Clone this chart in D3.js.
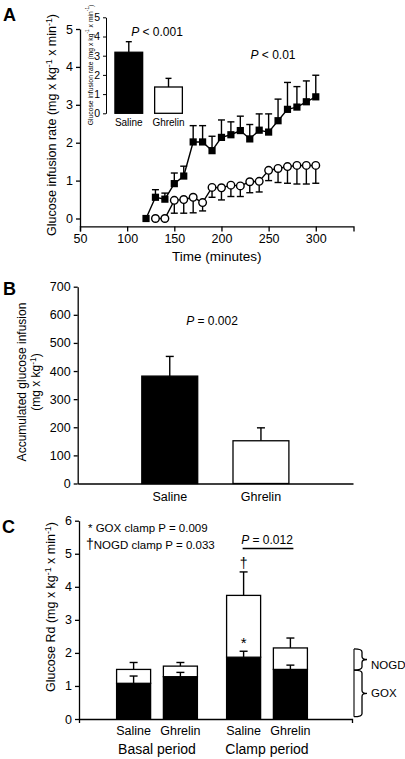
<!DOCTYPE html>
<html><head><meta charset="utf-8">
<script src="https://cdn.jsdelivr.net/npm/d3@7"></script>
<style>
body{margin:0;background:#fff;}
svg{display:block;font-family:"Liberation Sans",Arial,Helvetica,sans-serif;}
text{fill:#000;}
</style></head><body>
<svg id="c" width="405" height="759"></svg>
<script>
// ---------- Panel A data ----------
const timesSaline = [120,130,140,150,160,170,180,190,200,210,220,230,240,250,260,270,280,290,300];
const salineRate  = [0,0.56,0.51,0.92,1.12,2.02,2.02,1.79,2.14,2.21,2.32,2.10,2.33,2.28,2.58,2.88,2.94,3.08,3.21];
const salineSem   = [0,0.20,0.16,0.28,0.26,0.43,0.43,0.38,0.46,0.34,0.38,0.38,0.43,0.48,0.57,0.71,0.54,0.55,0.57];
const timesGhrelin = [130,140,150,160,170,180,190,200,210,220,230,240,250,260,270,280,290,300];
const ghrelinRate  = [0,0,0.48,0.50,0.56,0.42,0.82,0.81,0.88,0.86,0.97,0.98,1.27,1.32,1.37,1.40,1.40,1.40];
const ghrelinSem   = [0,0,0.34,0.36,0.41,0.22,0.26,0.32,0.30,0.28,0.29,0.28,0.27,0.37,0.44,0.49,0.49,0.47];
const timeTicks = [50,100,150,200,250,300];
const rateTicks = [0,1,2,3,4,5];
// inset
const insetGroups = ["Saline","Ghrelin"];
const insetMeans  = [3.18,1.37];
const insetSem    = [0.55,0.45];
// ---------- Panel B data ----------
const bGroups = ["Saline","Ghrelin"];
const bMeans  = [382,152];
const bSem    = [70,46];
const bTicks  = [0,100,200,300,400,500,600,700];
// ---------- Panel C data ----------
const cPeriods = ["Basal period","Clamp period"];
const cTreat   = ["Saline","Ghrelin"];
const cGox     = [1.08,1.28,1.87,1.50];
const cGoxSem  = [0.22,0.13,0.18,0.13];
const cNogd    = [0.42,0.32,1.87,0.65];
const cTotSem  = [0.21,0.11,0.71,0.30];
const cTicks   = [0,1,2,3,4,5,6];

const svg = d3.select("#c");

function richText(g, parts, attrs){
  const t = g.append("text");
  for (const k in attrs) t.attr(k, attrs[k]);
  let pend = 0;
  parts.forEach(p=>{
    const s = t.append("tspan").text(p.t);
    if (p.sup){ s.attr("dy",-4 + pend).attr("font-size","0.7em"); pend = 4; }
    else { if (pend) s.attr("dy",pend); pend = 0; if (p.it) s.attr("font-style","italic"); }
  });
  return t;
}
function styleAxis(g, fs){
  g.selectAll("path,line").attr("stroke","#000").attr("stroke-width",1.3);
  g.selectAll("text").attr("font-size",fs).attr("fill","#000").attr("font-family","Liberation Sans, Arial, sans-serif");
}
function errBar(g, x, y1, y2, cap){
  g.append("line").attr("x1",x).attr("x2",x).attr("y1",y1).attr("y2",y2).attr("stroke","#000").attr("stroke-width",1.4);
  g.append("line").attr("x1",x-cap).attr("x2",x+cap).attr("y1",y2).attr("y2",y2).attr("stroke","#000").attr("stroke-width",1.4);
}

// ================= Panel A =================
const gA = svg.append("g");
gA.append("text").attr("x",3).attr("y",21).attr("font-size",18).attr("font-weight","bold").text("A");
const xA = d3.scaleLinear().domain([50,340]).range([80,353.5]);
const yA = d3.scaleLinear().domain([0,5]).range([218.5,29]);
const yAaxis = d3.scaleLinear().domain([-0.21,5]).range([yA(-0.21),29]);
gA.append("g").attr("transform","translate(80,0)")
  .call(d3.axisLeft(yAaxis).tickValues(rateTicks).tickFormat(d3.format("d")).tickSize(4).tickSizeOuter(0))
  .call(g=>styleAxis(g,12.5));
gA.append("g").attr("transform",`translate(0,${yA(-0.21)})`)
  .call(d3.axisBottom(xA).tickValues(timeTicks).tickFormat(d3.format("d")).tickSize(5).tickSizeOuter(5))
  .call(g=>styleAxis(g,12.5));
gA.append("text").attr("x",(xA(50)+xA(340))/2).attr("y",261).attr("text-anchor","middle").attr("font-size",13.5).text("Time (minutes)");
richText(gA,[{t:"Glucose infusion rate (mg x kg"},{t:"-1",sup:1},{t:" x min"},{t:"-1",sup:1},{t:")"}],
  {transform:"translate(56,125) rotate(-90)","text-anchor":"middle","font-size":12.5});

// ghrelin
timesGhrelin.forEach((t,i)=>{ if(ghrelinSem[i]>0) errBar(gA,xA(t),yA(ghrelinRate[i]),yA(ghrelinRate[i]-ghrelinSem[i]),3.5); });
gA.append("path").datum(timesGhrelin.map((t,i)=>[t,ghrelinRate[i]]))
  .attr("d",d3.line().x(d=>xA(d[0])).y(d=>yA(d[1]))).attr("fill","none").attr("stroke","#000").attr("stroke-width",1.4);
gA.selectAll(".cg").data(timesGhrelin).join("circle").attr("cx",d=>xA(d)).attr("cy",(d,i)=>yA(ghrelinRate[i]))
  .attr("r",3.8).attr("fill","#fff").attr("stroke","#000").attr("stroke-width",1.4);
// saline
timesSaline.forEach((t,i)=>{ if(salineSem[i]>0) errBar(gA,xA(t),yA(salineRate[i]),yA(salineRate[i]+salineSem[i]),3.5); });
gA.append("path").datum(timesSaline.map((t,i)=>[t,salineRate[i]]))
  .attr("d",d3.line().x(d=>xA(d[0])).y(d=>yA(d[1]))).attr("fill","none").attr("stroke","#000").attr("stroke-width",1.4);
gA.selectAll(".sq").data(timesSaline).join("rect").attr("x",d=>xA(d)-3.6).attr("y",(d,i)=>yA(salineRate[i])-3.6)
  .attr("width",7.2).attr("height",7.2).attr("fill","#000");
richText(gA,[{t:"P",it:1},{t:" < 0.01"}],{x:273,y:59,"text-anchor":"middle","font-size":12});

// inset
const xI = d3.scaleBand().domain(insetGroups).range([106,191.3]).paddingInner(0.302).paddingOuter(0.225);
const yI = d3.scaleLinear().domain([0,5]).range([113.3,17.3]);
gA.append("g").attr("transform","translate(106,0)")
  .call(d3.axisLeft(yI).tickValues(rateTicks).tickFormat(d3.format("d")).tickSize(3).tickSizeOuter(0))
  .call(g=>styleAxis(g,10.5)).call(g=>g.selectAll("path,line").attr("stroke-width",1));
insetGroups.forEach((k,i)=>{
  errBar(gA, xI(k)+xI.bandwidth()/2, yI(insetMeans[i]), yI(insetMeans[i]+insetSem[i]), 3);
  gA.append("rect").attr("x",xI(k)).attr("y",yI(insetMeans[i])).attr("width",xI.bandwidth()).attr("height",yI(0)-yI(insetMeans[i]))
    .attr("fill",i===0?"#000":"#fff").attr("stroke","#000").attr("stroke-width",1.3);
  gA.append("text").attr("x",xI(k)+xI.bandwidth()/2).attr("y",126).attr("text-anchor","middle").attr("font-size",10).text(k);
});
richText(gA,[{t:"Glucose infusion rate (mg x kg"},{t:"-1",sup:1},{t:" x min"},{t:"-1",sup:1},{t:")"}],
  {transform:"translate(92.5,65) rotate(-90)","text-anchor":"middle","font-size":6.8});
richText(gA,[{t:"P",it:1},{t:" < 0.001"}],{x:157,y:36,"text-anchor":"middle","font-size":12});

// ================= Panel B =================
const gB = svg.append("g");
gB.append("text").attr("x",3).attr("y",295).attr("font-size",18).attr("font-weight","bold").text("B");
const xB = d3.scaleBand().domain(bGroups).range([77.7,353]).paddingInner(0.387).paddingOuter(0.703);
const yB = d3.scaleLinear().domain([0,700]).range([483.5,286.7]);
gB.append("g").attr("transform","translate(77.7,0)")
  .call(d3.axisLeft(yB).tickValues(bTicks).tickFormat(d3.format("d")).tickSize(4).tickSizeOuter(0)).call(g=>styleAxis(g,12.5));
gB.append("g").attr("transform",`translate(0,${yB(0)})`)
  .call(d3.axisBottom(xB).tickSize(0).tickSizeOuter(0).tickPadding(9)).call(g=>styleAxis(g,12.5));
bGroups.forEach((k,i)=>{
  errBar(gB, xB(k)+xB.bandwidth()/2, yB(bMeans[i]), yB(bMeans[i]+bSem[i]), 4);
  gB.append("rect").attr("x",xB(k)).attr("y",yB(bMeans[i])).attr("width",xB.bandwidth()).attr("height",yB(0)-yB(bMeans[i]))
    .attr("fill",i===0?"#000":"#fff").attr("stroke","#000").attr("stroke-width",1.3);
});
richText(gB,[{t:"P",it:1},{t:" = 0.002"}],{x:212,y:325,"text-anchor":"middle","font-size":12});
gB.append("text").attr("transform","translate(26,382) rotate(-90)").attr("text-anchor","middle").attr("font-size",12).text("Accumulated glucose infusion");
richText(gB,[{t:"(mg x kg"},{t:"-1",sup:1},{t:")"}],{transform:"translate(39.5,382) rotate(-90)","text-anchor":"middle","font-size":12});

// ================= Panel C =================
const gC = svg.append("g");
gC.append("text").attr("x",2).attr("y",533).attr("font-size",18).attr("font-weight","bold").text("C");
const xCo = d3.scaleBand().domain(cPeriods).range([102,322]);
const xCi = d3.scaleBand().domain(cTreat).range([0,xCo.bandwidth()]).paddingInner(0.273).paddingOuter(0.312);
const yC = d3.scaleLinear().domain([0,6]).range([719,520.7]);
gC.append("g").attr("transform","translate(79,0)")
  .call(d3.axisLeft(yC).tickValues(cTicks).tickFormat(d3.format("d")).tickSize(4).tickSizeOuter(0)).call(g=>styleAxis(g,12.5));
const xCaxis = d3.scaleLinear().domain([0,1]).range([79,352]);
gC.append("g").attr("transform",`translate(0,${yC(0)})`)
  .call(d3.axisBottom(xCaxis).tickValues([]).tickSizeOuter(4)).call(g=>styleAxis(g,12.5));
const cRows = [];
cPeriods.forEach(p=>cTreat.forEach(t=>cRows.push({p,t})));
const stackData = cRows.map((r,i)=>({GOX:cGox[i],NOGD:cNogd[i]}));
const series = d3.stack().keys(["GOX","NOGD"])(stackData);
const cx = r => xCo(r.p)+xCi(r.t);
cRows.forEach((r,i)=>{
  const top = series[1][i][1];
  errBar(gC, cx(r)+xCi.bandwidth()/2, yC(top), yC(top+cTotSem[i]), 4);
});
series.forEach((s,si)=>{
  s.forEach((d,i)=>{
    gC.append("rect").attr("x",cx(cRows[i])).attr("y",yC(d[1])).attr("width",xCi.bandwidth()).attr("height",yC(d[0])-yC(d[1]))
      .attr("fill",si===0?"#000":"#fff").attr("stroke","#000").attr("stroke-width",1.3);
  });
});
cRows.forEach((r,i)=>{
  const g = series[0][i][1];
  errBar(gC, cx(r)+xCi.bandwidth()/2, yC(g), yC(g+cGoxSem[i]), 4);
  gC.append("text").attr("x",cx(r)+xCi.bandwidth()/2).attr("y",735).attr("text-anchor","middle").attr("font-size",12.5).text(r.t);
});
cPeriods.forEach(p=>{
  gC.append("text").attr("x",xCo(p)+xCo.bandwidth()/2).attr("y",754).attr("text-anchor","middle").attr("font-size",14).text(p);
});
// markers on clamp saline
const cs = cRows[2], csx = cx(cs)+xCi.bandwidth()/2;
gC.append("text").attr("x",csx).attr("y",yC(series[1][2][1]+cTotSem[2])-4).attr("text-anchor","middle").attr("font-size",14).text("\u2020");
gC.append("text").attr("x",csx).attr("y",648).attr("text-anchor","middle").attr("font-size",15).text("*");
// P = 0.012 line
const cg = cRows[3], cgx = cx(cg)+xCi.bandwidth()/2;
gC.append("line").attr("x1",csx-1).attr("x2",cgx+3).attr("y1",548.5).attr("y2",548.5).attr("stroke","#000").attr("stroke-width",1.3);
richText(gC,[{t:"P",it:1},{t:" = 0.012"}],{x:(csx+cgx)/2,y:544,"text-anchor":"middle","font-size":12});
gC.append("text").attr("x",88).attr("y",532).attr("font-size",11.5).text("* GOX clamp P = 0.009");
const dagT = gC.append("text").attr("x",86).attr("y",548.5).attr("font-size",11.5);
dagT.append("tspan").attr("font-size",14).text("\u2020");
dagT.append("tspan").text("NOGD clamp P = 0.033");
richText(gC,[{t:"Glucose Rd (mg x kg"},{t:"-1",sup:1},{t:" x min"},{t:"-1",sup:1},{t:")"}],
  {transform:"translate(55,607) rotate(-90)","text-anchor":"middle","font-size":12.5});
// braces
function brace(y0,y1){
  const l=354, r=362, tip=367, m=(y0+y1)/2, k=3;
  return `M${l},${y0} Q${r},${y0} ${r},${y0+k} L${r},${m-k} Q${r},${m} ${tip},${m} Q${r},${m} ${r},${m+k} L${r},${y1-k} Q${r},${y1} ${l},${y1}`;
}
const braceNogd = [2.12,1.48], braceGox = [1.48,0.07];
gC.append("path").attr("d",brace(yC(braceNogd[0]),yC(braceNogd[1]))).attr("fill","none").attr("stroke","#000").attr("stroke-width",1.3);
gC.append("path").attr("d",brace(yC(braceGox[0]),yC(braceGox[1]))).attr("fill","none").attr("stroke","#000").attr("stroke-width",1.3);
gC.append("line").attr("x1",354).attr("x2",354).attr("y1",yC(braceNogd[0])).attr("y2",yC(braceGox[1])).attr("stroke","#000").attr("stroke-width",1.1);
gC.append("text").attr("x",371).attr("y",668.5).attr("font-size",11.5).text("NOGD");
gC.append("text").attr("x",371).attr("y",697).attr("font-size",11.5).text("GOX");
</script></body></html>
